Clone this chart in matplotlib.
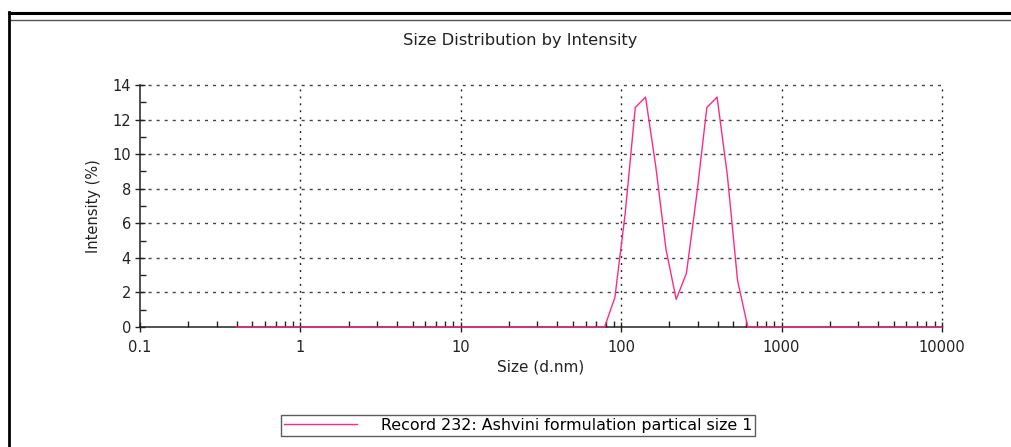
import matplotlib
matplotlib.use("Agg")
import matplotlib.pyplot as plt
from matplotlib.lines import Line2D
from matplotlib.ticker import LogLocator, FixedLocator, NullFormatter

plt.rcParams['font.family'] = ['DejaVu Sans']

# Data: size (d.nm) vs intensity (%)
sizes = [0.4, 78.82, 91.28, 105.7, 122.4, 141.8, 164.2, 190.1, 220.2,
         255.0, 295.3, 342.0, 396.1, 458.7, 531.2, 615.1, 10000]
intensity = [0, 0, 1.7, 6.5, 12.7, 13.3, 9.3, 4.5, 1.6,
             3.1, 7.6, 12.7, 13.3, 8.8, 2.7, 0, 0]
x_ticks = [0.1, 1, 10, 100, 1000, 10000]
x_tick_labels = ["0.1", "1", "10", "100", "1000", "10000"]
y_ticks = [0, 2, 4, 6, 8, 10, 12, 14]
series_label = "Record 232: Ashvini formulation partical size 1"
line_color = "#ff2a85"

W, H = 1011, 447
fig = plt.figure(figsize=(W / 100, H / 100), dpi=100)
ax = fig.add_axes([140 / W, 1 - 327 / H, (942 - 140) / W, (327 - 85) / H])

ax.plot(sizes, intensity, color=line_color, lw=1.0, label=series_label,
        clip_on=False, zorder=5)

ax.set_xscale("log")
ax.set_xlim(0.1, 10000)
ax.set_ylim(0, 14)
ax.set_xticks(x_ticks)
ax.set_xticklabels(x_tick_labels)
ax.xaxis.set_minor_locator(LogLocator(base=10, subs=range(2, 10), numticks=20))
ax.xaxis.set_minor_formatter(NullFormatter())
ax.set_yticks(y_ticks)
ax.yaxis.set_minor_locator(FixedLocator([1, 3, 5, 7, 9, 11, 13]))

for s in ("top", "right"):
    ax.spines[s].set_visible(False)
for s in ("left", "bottom"):
    ax.spines[s].set_linewidth(1.1)
    ax.spines[s].set_color("#222222")
    ax.spines[s].set_zorder(4)

ax.tick_params(axis="both", which="major", direction="inout", length=7,
               width=1, labelsize=10.5, colors="#222222", pad=3)
ax.tick_params(axis="both", which="minor", direction="in", length=4, width=1,
               colors="#222222")
ax.tick_params(axis="x", which="major", pad=6)

ax.grid(True, axis="y", which="major", color="#444444", lw=1.0,
        linestyle=(0, (2.2, 3.6)))
ax.grid(True, axis="x", which="major", color="#222222", lw=1.0,
        linestyle=(0, (1.4, 3.6)))
ax.set_axisbelow(True)

xg = ax.get_xgridlines()
yg = ax.get_ygridlines()
xg[0].set_visible(False)
yg[0].set_visible(False)
xg[-1].set_clip_on(False)
yg[-1].set_clip_on(False)

ax.set_xlabel("Size (d.nm)", fontsize=11, color="#222222", labelpad=3)
ax.set_ylabel("Intensity (%)", fontsize=10.5, color="#222222", labelpad=8)
fig.text(520 / W, 1 - 41 / H, "Size Distribution by Intensity",
         ha="center", va="center", fontsize=11.7, color="#222222")

leg = fig.legend(loc="center", bbox_to_anchor=(518 / W, 1 - 425.5 / H),
                 fontsize=11.4, frameon=True, fancybox=False, handlelength=4.6,
                 handletextpad=1.5, borderpad=0.2, borderaxespad=0)
leg.get_frame().set_edgecolor("#333333")
leg.get_frame().set_linewidth(1.0)

# outer frame lines
fig.add_artist(Line2D([8.5 / W, 1], [1 - 13 / H, 1 - 13 / H],
                      transform=fig.transFigure, color="black", lw=2.2))
fig.add_artist(Line2D([10 / W, 1], [1 - 19.5 / H, 1 - 19.5 / H],
                      transform=fig.transFigure, color="#555555", lw=1.0))
fig.add_artist(Line2D([9.3 / W, 9.3 / W], [1 - 12 / H, 0],
                      transform=fig.transFigure, color="black", lw=2.0))

fig.savefig("out.png", dpi=100)
